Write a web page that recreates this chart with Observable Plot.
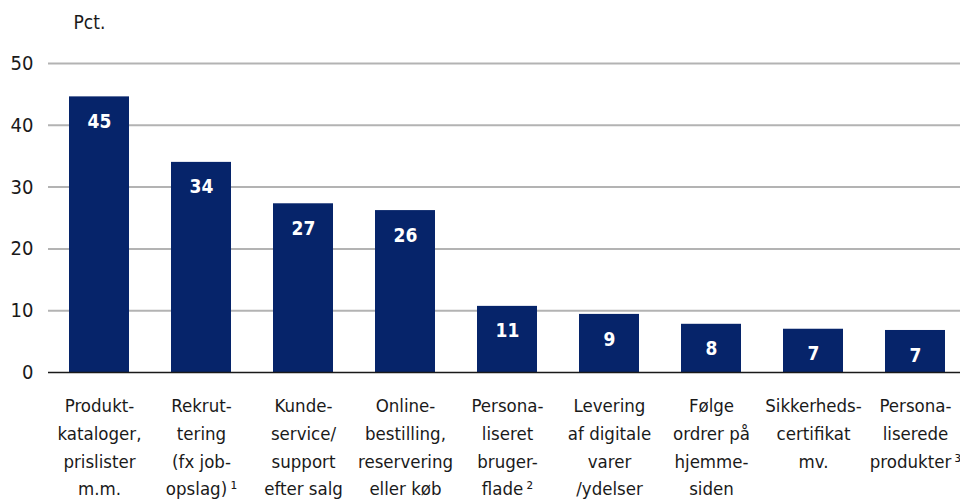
<!DOCTYPE html>
<html>
<head>
<meta charset="utf-8">
<script src="https://cdn.jsdelivr.net/npm/d3@7"></script>
<script src="https://cdn.jsdelivr.net/npm/@observablehq/plot@0.6"></script>
<style>
  html, body { margin: 0; padding: 0; background: #fff; }
  #chart { width: 960px; height: 504px; }
</style>
</head>
<body>
<div id="chart"></div>
<script>
const categories = [
  "Produkt-\nkataloger,\nprislister\nm.m.",
  "Rekrut-\ntering\n(fx job-\nopslag)\u2009\u00b9",
  "Kunde-\nservice/\nsupport\nefter salg",
  "Online-\nbestilling,\nreservering\neller køb",
  "Persona-\nliseret\nbruger-\nflade\u2009\u00b2",
  "Levering\naf digitale\nvarer\n/ydelser",
  "Følge\nordrer på\nhjemme-\nsiden",
  "Sikkerheds-\ncertifikat\nmv.",
  "Persona-\nliserede\nprodukter\u2009\u00b3"
];
const values = [44.6, 34.0, 27.3, 26.2, 10.7, 9.4, 7.8, 7.0, 6.8];
const valueLabels = ["45", "34", "27", "26", "11", "9", "8", "7", "7"];
const yTicks = [0, 10, 20, 30, 40, 50];
const unitLabel = "Pct.";

const data = categories.map((c, i) => ({cat: c, value: values[i], label: valueLabels[i]}));

const FONT = "'DejaVu Sans Condensed', 'Liberation Sans', sans-serif";

const chart = Plot.plot({
  width: 960,
  height: 504,
  marginTop: 63,
  marginBottom: 132,
  marginLeft: 48,
  marginRight: 0,
  style: {fontFamily: FONT, fontSize: "19px", color: "#1a1a1a", background: "#fff"},
  x: {domain: categories, range: [48, 966], paddingInner: 0.41, paddingOuter: 0.205, axis: null},
  y: {domain: [0, 50], ticks: yTicks, axis: null},
  marks: [
    Plot.ruleY(yTicks.filter(t => t > 0), {stroke: "#b3b3b3", strokeWidth: 2}),
    Plot.barY(data, {x: "cat", y: "value", fill: "#06246a"}),
    Plot.ruleY([0], {stroke: "#1a1a1a", strokeWidth: 1.5}),
    Plot.text(yTicks, {y: d => d, text: d => String(d), frameAnchor: "left", textAnchor: "end", dx: -15, fontSize: 20, fill: "#1a1a1a"}),
    Plot.text(data, {x: "cat", y: "value", text: "label", dy: 25, fill: "white", fontWeight: "bold", fontSize: 19}),
    Plot.text(data, {x: "cat", text: "cat", frameAnchor: "bottom", lineAnchor: "top", dy: 20, lineHeight: 1.5, fontSize: 18.5, fill: "#1a1a1a"}),
    Plot.text([unitLabel], {frameAnchor: "top-left", text: d => d, textAnchor: "start", dx: 25, dy: -48, fontSize: 19, fill: "#1a1a1a"})
  ]
});
document.getElementById("chart").appendChild(chart);
</script>
</body>
</html>
